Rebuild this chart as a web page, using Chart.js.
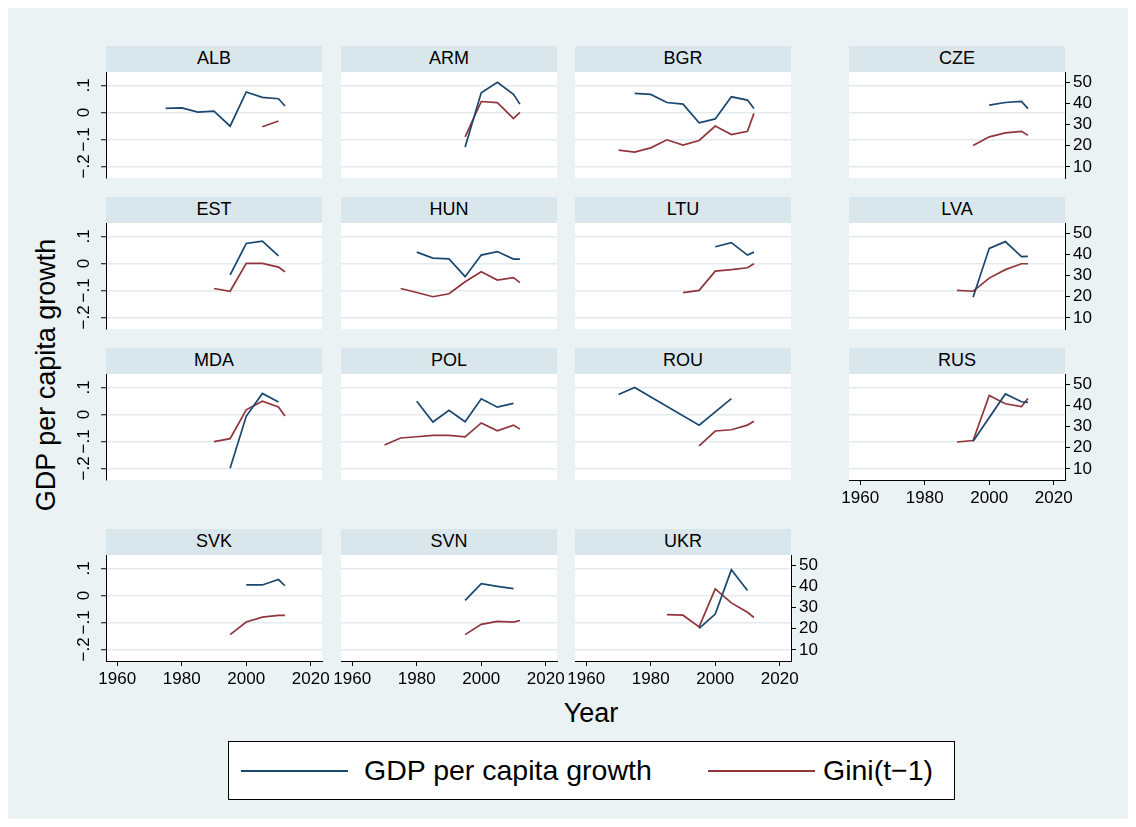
<!DOCTYPE html>
<html>
<head>
<meta charset="utf-8">
<script src="https://cdn.jsdelivr.net/npm/chart.js@4.4.0/dist/chart.umd.min.js"></script>
<style>
body { margin: 0; background: #fff; font-family: "Liberation Sans", Arial, sans-serif; }
#wrap { position: relative; width: 1136px; height: 827px; overflow: hidden; }
#bg { position: absolute; left: 8px; top: 8px; width: 1120px; height: 811px; background: #eaf2f3; }
.strip { position: absolute; height: 26px; line-height: 25px; background: #d9e6eb; text-align: center; font-size: 18px; color: #000; }
canvas { position: absolute; }
#ytitle { position: absolute; left: 46px; top: 375px; transform: translate(-50%, -50%) rotate(-90deg); font-size: 27px; white-space: nowrap; color: #000; }
#xtitle { position: absolute; left: 591px; top: 713px; transform: translate(-50%, -50%); font-size: 27px; color: #000; }
#legend { position: absolute; left: 228px; top: 741px; width: 725px; height: 57px; background: #fff; border: 1px solid #000; }
.lline { position: absolute; top: 28px; height: 2px; }
.ltext { position: absolute; top: 0; line-height: 57px; font-size: 28.5px; color: #000; white-space: nowrap; }
</style>
</head>
<body>
<div id="wrap">
  <div id="bg"></div>
  <div id="ytitle">GDP per capita growth</div>
  <div id="xtitle">Year</div>
  <div id="legend">
    <div class="lline" style="left:12px;width:107px;background:#1a476f"></div>
    <div class="ltext" style="left:135px">GDP per capita growth</div>
    <div class="lline" style="left:479px;width:107px;background:#90353b"></div>
    <div class="ltext" style="left:594px">Gini(t−1)</div>
  </div>
</div>
<script>
// panels, in the order they are laid out
const countries = ['ALB', 'ARM', 'BGR', 'CZE', 'EST', 'HUN', 'LTU', 'LVA',
                   'MDA', 'POL', 'ROU', 'RUS', 'SVK', 'SVN', 'UKR'];
const years = [1970, 1975, 1980, 1985, 1990, 1995, 2000, 2005, 2010, 2012];

// GDP per capita growth, one row per country (same order as countries)
const gdpGrowth = [
  [null, 0.015, 0.017, 0.001, 0.005, -0.051, 0.076, 0.056, 0.051, 0.024],  // ALB
  [null, null, null, null, null, -0.128, 0.073, 0.112, 0.067, 0.031],       // ARM
  [null, 0.071, 0.067, 0.037, 0.031, -0.038, -0.024, 0.058, 0.046, 0.015],  // BGR
  [null, null, null, null, null, null, 0.027, 0.037, 0.041, 0.014],          // CZE
  [null, null, null, null, null, -0.042, 0.074, 0.083, 0.028, null],         // EST
  [null, null, 0.042, 0.020, 0.017, -0.049, 0.031, 0.044, 0.016, 0.016],    // HUN
  [null, null, null, null, null, null, 0.062, 0.077, 0.031, 0.042],          // LTU
  [null, null, null, null, null, -0.125, 0.056, 0.081, 0.025, 0.026],        // LVA
  [null, null, null, null, null, -0.199, -0.007, 0.078, 0.046, null],        // MDA
  [null, null, 0.049, -0.028, 0.015, -0.027, 0.058, 0.027, 0.041, null],    // POL
  [0.074, 0.100, null, null, null, -0.040, null, 0.059, null, null],         // ROU
  [null, null, null, null, null, -0.099, null, 0.076, 0.047, 0.045],         // RUS
  [null, null, null, null, null, null, 0.039, 0.039, 0.059, 0.036],          // SVK
  [null, null, null, null, null, -0.018, 0.044, 0.034, 0.025, null],         // SVN
  [null, null, null, null, null, -0.122, -0.069, 0.095, 0.018, null]         // UKR
];

// Gini(t-1), right axis
const giniLag = [
  [null, null, null, null, null, null, null, 29.0, 31.7, null],   // ALB
  [null, null, null, null, null, 24.2, 40.9, 40.4, 32.8, 35.8],   // ARM
  [17.9, 17.0, 19.0, 22.8, 20.3, 22.5, 29.3, 25.3, 26.8, 35.3],   // BGR
  [null, null, null, null, null, 20.1, 24.2, 26.1, 26.8, 24.9],   // CZE
  [null, null, null, null, 23.9, 22.6, 35.8, 35.8, 34.0, 31.8],   // EST
  [null, 23.9, 22.0, 20.0, 21.4, 27.1, 31.8, 27.9, 29.0, 26.7],   // HUN
  [null, null, null, null, 21.9, 23.0, 32.1, 32.8, 33.7, 35.6],   // LTU
  [null, null, null, null, 23.0, 22.6, 28.8, 32.8, 35.6, 35.6],   // LVA
  [null, null, null, null, 22.9, 24.3, 37.9, 42.0, 39.3, 35.0],   // MDA
  [21.3, 24.6, 25.2, 25.8, 25.8, 25.1, 31.7, 28.0, 30.7, 28.8],   // POL
  [null, null, null, null, null, 20.9, 27.9, 28.5, 30.7, 32.5],   // ROU
  [null, null, null, null, 22.7, 23.4, 44.7, 40.8, 39.5, 43.3],   // RUS
  [null, null, null, null, null, 17.2, 23.2, 25.5, 26.3, 26.3],   // SVK
  [null, null, null, null, null, 17.2, 22.1, 23.5, 23.1, 23.9],   // SVN
  [null, null, null, 26.7, 26.4, 20.9, 38.8, 32.2, 27.8, 25.3]    // UKR
];

const yearTicks = [1960, 1980, 2000, 2020];
const gdpTicks = [-0.2, -0.1, 0, 0.1];
const gdpTickLabels = ['−.2', '−.1', '0', '.1'];
const giniTicks = [10, 20, 30, 40, 50];

// layout (pixels)
const colLeft = [106, 341, 575, 849];
const rowTop = [46, 197, 348, 529];
const W = 216, HEAD = 26, H = 106, M = 50, MT = 4, MB = 40;
const LW = 40, RW = 40, XH = 30;
const FAMILY = '"Liberation Sans", Arial, sans-serif';

const whiteArea = {
  id: 'whiteArea',
  beforeDraw(chart) {
    const a = chart.chartArea, ctx = chart.ctx;
    ctx.save();
    ctx.fillStyle = '#fff';
    ctx.fillRect(a.left, a.top, a.right - a.left, a.bottom - a.top);
    ctx.restore();
  }
};

const wrap = document.getElementById('wrap');

countries.forEach((name, i) => {
  const r = Math.floor(i / 4), c = i % 4;
  const showLeft = c === 0;
  const showRight = (r < 3 && c === 3) || (r === 3 && c === 2);
  const showX = r === 3 || (r === 2 && c === 3);

  const strip = document.createElement('div');
  strip.className = 'strip';
  strip.style.left = colLeft[c] + 'px';
  strip.style.top = rowTop[r] + 'px';
  strip.style.width = W + 'px';
  strip.textContent = name;
  wrap.appendChild(strip);

  const cv = document.createElement('canvas');
  cv.width = W + 2 * M;
  cv.height = MT + H + MB;
  cv.style.left = (colLeft[c] - M) + 'px';
  cv.style.top = (rowTop[r] + HEAD - MT) + 'px';
  wrap.appendChild(cv);

  const gdpPts = years.map((y, k) => ({ x: y, y: gdpGrowth[i][k] })).filter(p => p.y !== null);
  const giniPts = years.map((y, k) => ({ x: y, y: giniLag[i][k] })).filter(p => p.y !== null);

  new Chart(cv, {
    type: 'line',
    data: {
      datasets: [
        { label: 'GDP per capita growth', data: gdpPts, yAxisID: 'y',
          borderColor: '#1a476f', borderWidth: 1.7, pointRadius: 0, tension: 0 },
        { label: 'Gini(t−1)', data: giniPts, yAxisID: 'y2',
          borderColor: '#90353b', borderWidth: 1.7, pointRadius: 0, tension: 0 }
      ]
    },
    options: {
      responsive: false,
      animation: false,
      layout: { padding: {
        left: M - (showLeft ? LW : 0), right: M - (showRight ? RW : 0),
        top: MT, bottom: MB - (showX ? XH : 0) } },
      plugins: { legend: { display: false }, tooltip: { enabled: false } },
      scales: {
        x: {
          type: 'linear', min: 1956.5, max: 2023.5, display: showX,
          afterBuildTicks: s => { s.ticks = yearTicks.map(v => ({ value: v })); },
          afterFit: s => { s.height = showX ? XH : 0; s.paddingLeft = 0; s.paddingRight = 0; },
          grid: { drawOnChartArea: false, tickLength: 5, tickColor: '#000' },
          border: { color: '#000', width: 1 },
          ticks: { maxRotation: 0, autoSkip: false, padding: 3, color: '#000',
                   font: { size: 17, family: FAMILY }, callback: v => String(v) }
        },
        y: {
          type: 'linear', position: 'left', min: -0.243, max: 0.15,
          afterBuildTicks: s => { s.ticks = gdpTicks.map(v => ({ value: v })); },
          afterFit: s => { s.width = showLeft ? LW : 0; s.paddingTop = 0; s.paddingBottom = 0; },
          grid: { color: '#e3ebee', lineWidth: 1.5, drawTicks: showLeft, tickLength: 5,
                  tickColor: '#000', tickWidth: 1 },
          border: { display: showLeft, color: '#000', width: 1 },
          ticks: { display: showLeft, minRotation: 90, maxRotation: 90, crossAlign: 'center',
                   padding: 5, color: '#000', font: { size: 17, family: FAMILY },
                   callback: (v, k) => gdpTickLabels[k] }
        },
        y2: {
          type: 'linear', position: 'right', display: showRight, min: 4.75, max: 54.85,
          afterBuildTicks: s => { s.ticks = giniTicks.map(v => ({ value: v })); },
          afterFit: s => { s.width = showRight ? RW : 0; s.paddingTop = 0; s.paddingBottom = 0; },
          grid: { drawOnChartArea: false, tickLength: 5, tickColor: '#000' },
          border: { color: '#000', width: 1 },
          ticks: { padding: 3, color: '#000', font: { size: 17, family: FAMILY } }
        }
      }
    },
    plugins: [whiteArea]
  });
});
</script>
</body>
</html>
